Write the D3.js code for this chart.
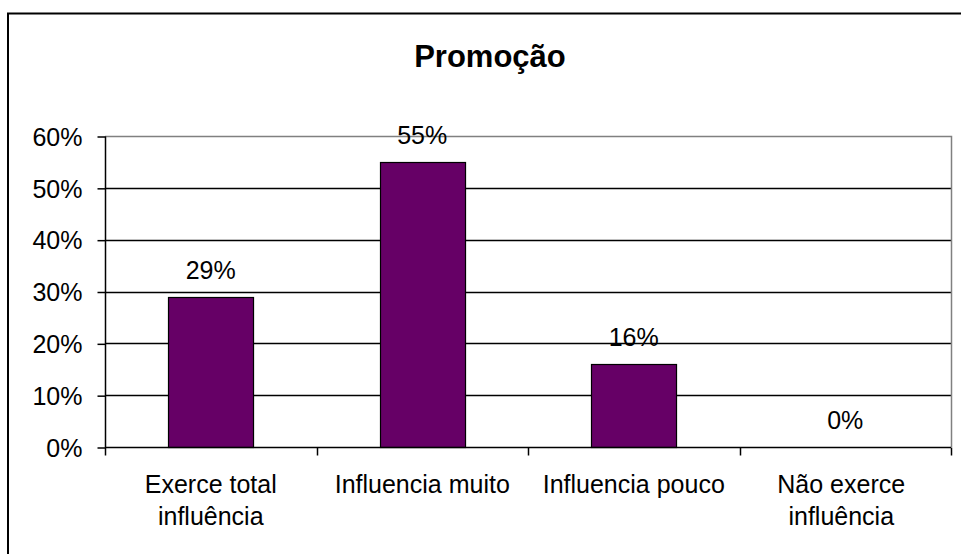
<!DOCTYPE html>
<html lang="pt">
<head>
	<meta charset="UTF-8">
	<script src="https://d3js.org/d3.v7.min.js"></script>
	<title>Promoção</title>
	<style>
		body{ margin:0; background:#fff; }
		text{ font-family:"Liberation Sans", Arial, sans-serif; fill:#000; }
		.lbl{ font-size:25px; }
		.title{ font-size:31px; font-weight:bold; }
	</style>
</head>
<body>
<script>
	const categories = ["Exerce total influência", "Influencia muito", "Influencia pouco", "Não exerce influência"];
	const values = [0.29, 0.55, 0.16, 0];
	const yTicks = [0, 0.1, 0.2, 0.3, 0.4, 0.5, 0.6];
	const title = "Promoção";

	const width = 961, height = 554;
	const plot = {left:105, right:951, top:136, bottom:447};

	const svg = d3.select("body").append("svg")
		.attr("width", width)
		.attr("height", height);

	// moldura externa (cortada na direita e embaixo)
	svg.append("rect")
		.attr("x", 8).attr("y", 13.5)
		.attr("width", 1000).attr("height", 600)
		.attr("fill", "none").attr("stroke", "#000").attr("stroke-width", 2);

	svg.append("text")
		.attr("class", "title")
		.attr("x", 490).attr("y", 67)
		.attr("text-anchor", "middle")
		.text(title);

	const x = d3.scaleBand()
		.domain(categories)
		.range([plot.left, plot.right])
		.paddingInner(0.598)
		.paddingOuter(0.299);
	const y = d3.scaleLinear()
		.domain([0, 0.6])
		.range([plot.bottom, plot.top]);

	// linhas de grade
	svg.selectAll(".grid")
		.data(yTicks.filter(d => d > 0 && d < 0.6))
		.enter().append("line")
		.attr("class", "grid")
		.attr("x1", plot.left).attr("x2", plot.right)
		.attr("y1", d => Math.round(y(d)) + 0.5)
		.attr("y2", d => Math.round(y(d)) + 0.5)
		.attr("stroke", "#000").attr("stroke-width", 1.4);

	// borda da área do gráfico (cinza)
	svg.append("path")
		.attr("d", "M" + plot.left + "," + (plot.top + 0.5) + "H" + (plot.right + 0.5) + "V" + plot.bottom)
		.attr("fill", "none").attr("stroke", "#808080").attr("stroke-width", 1.5);

	// barras
	svg.selectAll(".bar")
		.data(values)
		.enter().append("rect")
		.attr("class", "bar")
		.attr("x", (d, i) => Math.round(x(categories[i])) + 0.5)
		.attr("y", d => Math.round(y(d)) + 0.5)
		.attr("width", x.bandwidth())
		.attr("height", d => plot.bottom - Math.round(y(d)))
		.attr("fill", "#660066")
		.attr("stroke", "#000").attr("stroke-width", 1.2)
		.style("display", d => d > 0 ? null : "none");

	// rótulos de valor
	svg.selectAll(".val")
		.data(values)
		.enter().append("text")
		.attr("class", "lbl")
		.attr("x", (d, i) => x(categories[i]) + x.bandwidth() / 2)
		.attr("y", d => y(d) - 18)
		.attr("text-anchor", "middle")
		.text(d => Math.round(d * 100) + "%");

	// eixo Y
	const yAxis = svg.append("g")
		.attr("transform", "translate(" + (plot.left + 0.5) + ",0.5)")
		.call(d3.axisLeft(y).tickValues(yTicks).tickSize(8).tickPadding(15)
			.tickFormat(d3.format(".0%")));
	yAxis.select(".domain").attr("stroke", "#000").attr("stroke-width", 1.5).attr("d", "M0," + plot.top + "V" + plot.bottom);
	yAxis.selectAll(".tick line").attr("stroke", "#000").attr("stroke-width", 1.5);
	yAxis.selectAll("text").attr("class", "lbl").attr("font-size", null).attr("font-family", null).attr("dy", "0.35em");

	// eixo X
	const step = x.step();
	const xAxis = svg.append("g")
		.attr("transform", "translate(0," + (plot.bottom + 0.5) + ")");
	xAxis.append("line")
		.attr("x1", plot.left).attr("x2", plot.right)
		.attr("stroke", "#000").attr("stroke-width", 1.5);
	xAxis.selectAll(".xt")
		.data(d3.range(categories.length + 1))
		.enter().append("line")
		.attr("x1", i => Math.round(plot.left + i * step) + 0.5)
		.attr("x2", i => Math.round(plot.left + i * step) + 0.5)
		.attr("y1", 0).attr("y2", 8)
		.attr("stroke", "#000").attr("stroke-width", 1.5);

	const catText = xAxis.selectAll(".cat")
		.data(categories)
		.enter().append("text")
		.attr("class", "lbl")
		.attr("text-anchor", "middle")
		.attr("x", (d, i) => x(d) + x.bandwidth() / 2 - (i === 3 ? 4 : 0))
		.attr("y", 45);
	catText.each(function(d) {
		const t = d3.select(this);
		const words = d.split(" ");
		let lines = [], cur = [];
		const probe = t.append("tspan");
		words.forEach(w => {
			const test = cur.concat([w]).join(" ");
			probe.text(test);
			if (probe.node().getComputedTextLength() > step - 10 && cur.length) {
				lines.push(cur.join(" "));
				cur = [w];
			} else {
				cur.push(w);
			}
		});
		lines.push(cur.join(" "));
		probe.remove();
		const cx = t.attr("x");
		lines.forEach((l, k) => {
			t.append("tspan").attr("x", cx).attr("dy", k === 0 ? 0 : 32).text(l);
		});
	});
</script>
</body>
</html>
